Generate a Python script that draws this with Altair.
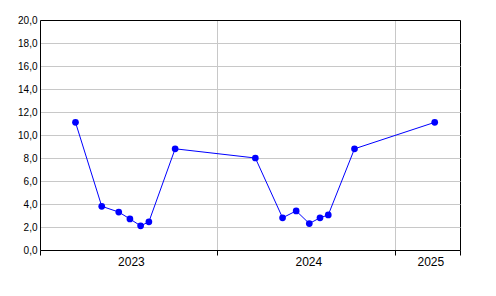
import altair as alt
import pandas as pd

dates = ["2023-03-15", "2023-05-08", "2023-06-12", "2023-07-05", "2023-07-27",
         "2023-08-13", "2023-10-06", "2024-03-19", "2024-05-14", "2024-06-11",
         "2024-07-08", "2024-07-30", "2024-08-16", "2024-10-09", "2025-03-23"]
values = [11.1, 3.8, 3.3, 2.7, 2.1, 2.45, 8.8, 8.0, 2.8, 3.4, 2.3, 2.8, 3.05, 8.8, 11.1]

year_labels = ["2023", "2024", "2025"]
year_label_dates = ["2023-07-08", "2024-07-07", "2025-03-15"]

df = pd.DataFrame({"date": dates, "value": values})
lab = pd.DataFrame({"date": year_label_dates, "label": year_labels})

def dt(y, m, d):
    return alt.DateTime(year=y, month=m, date=d, utc=True)

xscale = alt.Scale(type="utc", domain=[dt(2023, 1, 1), dt(2025, 5, 14)])
FONT = "Liberation Sans"

base_x = alt.X("date:T", scale=xscale,
               axis=alt.Axis(values=[dt(2023, 1, 1), dt(2024, 1, 1), dt(2025, 1, 1), dt(2025, 5, 14)],
                             labels=False, title=None, grid=True,
                             gridColor=alt.condition("datum.value > utc(2025, 2, 1)",
                                                     alt.value("black"), alt.value("#c8c8c8")),
                             domainColor="black", tickColor="black", tickSize=5))
yenc = alt.Y("value:Q", scale=alt.Scale(domain=[0, 20], nice=False),
             axis=alt.Axis(values=[0, 2, 4, 6, 8, 10, 12, 14, 16, 18, 20], title=None, format=".1f",
                           labelExpr="replace(datum.label, '.', ',')",
                           labelOverlap=False, labelFlush=False,
                           grid=True,
                           gridColor=alt.condition("datum.value >= 20",
                                                   alt.value("black"), alt.value("#c8c8c8")),
                           ticks=False,
                           domainColor="black", labelPadding=3))

base = alt.Chart(df).encode(x=base_x, y=yenc)
line = base.mark_line(color="#0000ff", strokeWidth=1)
pts = base.mark_circle(color="#0000ff", opacity=1, size=45)
txt = alt.Chart(lab).mark_text(font=FONT, fontSize=12, color="black", baseline="middle").encode(
    x=base_x, y=alt.value(242), text="label:N")

chart = alt.layer(line, pts, txt).properties(
    width=420, height=230,
    autosize=alt.AutoSizeParams(type="none"),
    padding={"left": 40, "top": 20, "right": 36, "bottom": 46},
).configure_view(stroke="black", strokeWidth=1).configure_axis(
    labelFont=FONT, labelFontSize=12, labelColor="black"
).configure(background="white")

chart.save("out.html", embed_options={"renderer": "svg", "actions": False})
